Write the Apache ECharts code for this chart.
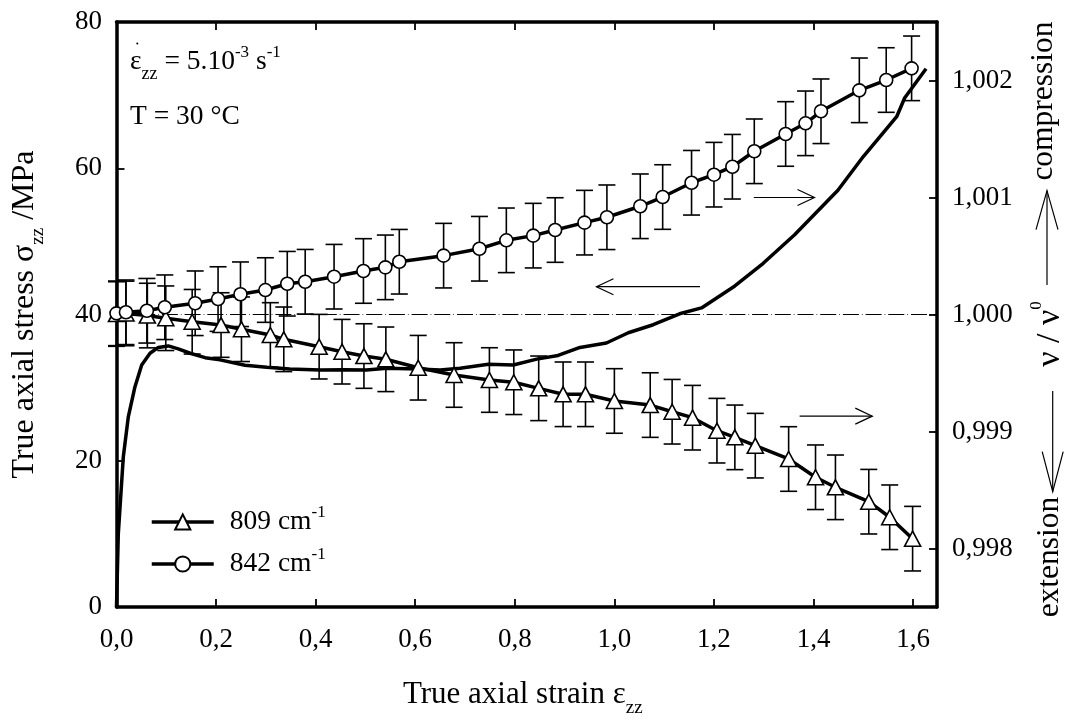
<!DOCTYPE html>
<html>
<head>
<meta charset="utf-8">
<style>html,body{margin:0;background:#fff}#chart{width:1069px;height:719px}</style>
<script src="https://cdn.jsdelivr.net/npm/echarts@6/dist/echarts.min.js"></script>
</head>
<body>
<div id="chart"></div>
<script>
const INK = "#000"
const SERIF = "'Liberation Serif', serif"

// values
const strain809 = [0,0.019,0.062,0.099,0.152,0.21,0.251,0.309,0.336,0.407,0.453,0.497,0.541,0.606,0.678,0.749,0.798,0.848,0.897,0.942,1,1.072,1.116,1.157,1.206,1.242,1.283,1.35,1.404,1.444,1.511,1.553,1.599]
const ratio809 = [1.000004,1.000009,0.999991,0.999968,0.999938,0.99991,0.999874,0.999825,0.999788,0.999725,0.999682,0.999645,0.999617,0.999545,0.999483,0.99944,0.999421,0.999369,0.999318,0.999318,0.999261,0.999226,0.999169,0.999118,0.999007,0.99895,0.998879,0.998765,0.998609,0.998523,0.9984,0.998267,0.998084]
const strain842 = [0,0.019,0.061,0.097,0.158,0.204,0.249,0.299,0.343,0.379,0.437,0.496,0.54,0.568,0.657,0.729,0.783,0.837,0.881,0.94,0.985,1.052,1.097,1.155,1.2,1.237,1.281,1.344,1.384,1.415,1.492,1.546,1.597]
const ratio842 = [1.00001,1.000019,1.000032,1.000062,1.000096,1.000132,1.000173,1.000209,1.000263,1.00028,1.000323,1.000372,1.000403,1.000451,1.000503,1.000562,1.000634,1.000674,1.000722,1.000785,1.000831,1.000925,1.001004,1.001126,1.001195,1.001263,1.001395,1.001543,1.001634,1.001737,1.001916,1.002004,1.002104]
const ERR = 0.000276 // half height of the error bars

const stressStrain = [0,0.0036,0.0137,0.0237,0.037,0.0506,0.0673,0.084,0.104,0.124,0.148,0.178,0.208,0.258,0.302,0.348,0.409,0.455,0.502,0.543,0.606,0.65,0.69,0.747,0.797,0.844,0.887,0.931,0.984,1.028,1.078,1.131,1.175,1.242,1.299,1.362,1.449,1.5,1.567,1.583,1.626]
const stress = [0,10,20.55,26,30.1,33.1,34.7,35.5,35.7,35.3,34.7,34.1,33.8,33.05,32.8,32.55,32.4,32.45,32.4,32.65,32.55,32.4,32.65,33.2,33.1,33.9,34.4,35.5,36.1,37.5,38.6,40.1,40.9,43.9,47,50.9,57,61.6,67.05,69.6,73.6]

const refStrain = [0, 1.655]
const refRatio = [1, 1]

// annotation arrows: [from strain, to strain, stress level]
const arrows = [[1.28, 1.402, 56], [1.172, 0.964, 43.8], [1.372, 1.518, 26.1]]

const xTicks = [0, 0.2, 0.4, 0.6, 0.8, 1.0, 1.2, 1.4, 1.6]
const rightTicks = [0.998, 0.999, 1.0, 1.001, 1.002]

// main size for labels in the plot, larger ones for the axis titles
const textRich = {
  n: {fontFamily: SERIF, fontSize: 27.5, color: INK, lineHeight: 42},
  sub: {fontFamily: SERIF, fontSize: 18, color: INK, verticalAlign: "bottom"},
  sup: {fontFamily: SERIF, fontSize: 17, color: INK, verticalAlign: "top", padding: [3, 0, 0, 0]},
  t: {fontFamily: SERIF, fontSize: 31, color: INK, lineHeight: 46},
  ty: {fontFamily: SERIF, fontSize: 32, color: INK, lineHeight: 46},
  tsub: {fontFamily: SERIF, fontSize: 19, color: INK, verticalAlign: "bottom"},
  tv: {fontFamily: SERIF, fontSize: 34, color: INK, lineHeight: 50},
}

// the second axes would jump onto x=0 / y=0 without onZero off
const axisLine = {show: true, onZero: false, lineStyle: {color: INK, width: 3.5}}
const axisTick = {show: true, inside: true, length: 8, lineStyle: {color: INK, width: 1.8}}
const tickFont = {fontFamily: SERIF, fontSize: 27, color: INK}

const errorBars = (xs, ys) => ({
  type: "custom",
  yAxisIndex: 1,
  z: 3,
  silent: true,
  clip: false,
  data: xs.map((x, i) => [x, ys[i] - ERR, ys[i] + ERR]),
  encode: {x: 0, y: [1, 2]},
  renderItem(params, api) {
    const lo = api.coord([api.value(0), api.value(1)])
    const hi = api.coord([api.value(0), api.value(2)])
    const style = {stroke: INK, lineWidth: 1.6, fill: null}
    const seg = (x1, y1, x2, y2) => ({type: "line", shape: {x1, y1, x2, y2}, style})
    return {
      type: "group",
      children: [
        seg(lo[0], lo[1], hi[0], hi[1]),
        seg(lo[0] - 8.5, lo[1], lo[0] + 8.5, lo[1]),
        seg(hi[0] - 8.5, hi[1], hi[0] + 8.5, hi[1]),
      ],
    }
  },
})

const markerLine = (name, xs, ys, symbol, symbolSize) => ({
  name,
  type: "line",
  yAxisIndex: 1,
  z: 5,
  clip: false,
  data: xs.map((x, i) => [x, ys[i]]),
  symbol,
  symbolSize,
  showAllSymbol: true,
  lineStyle: {color: INK, width: 3.5},
  itemStyle: {color: "#fff", borderColor: INK, borderWidth: 1.6},
})

const sideText = (text, x, y) => ({
  type: "text",
  x, y,
  rotation: Math.PI / 2,
  style: {text, fontFamily: SERIF, fontSize: 31.5, fill: INK, align: "center", verticalAlign: "middle"},
})

// open arrow pointing from y1 to y2 on the right margin
const sideArrow = (x, y1, y2, len, half) => {
  const back = y2 < y1 ? y2 + len : y2 - len
  const style = {stroke: INK, lineWidth: 1.2, fill: null}
  return [
    {type: "polyline", shape: {points: [[x, y1], [x, y2]]}, style},
    {type: "polyline", shape: {points: [[x - half, back], [x, y2], [x + half, back]]}, style},
  ]
}

const chart = echarts.init(document.getElementById("chart"), null, {renderer: "canvas"})

chart.setOption({
  animation: false,
  backgroundColor: "#fff",
  textStyle: {fontFamily: SERIF, color: INK},
  grid: {left: 116.5, right: 132, top: 22, bottom: 112, outerBoundsMode: "none"},
  legend: {
    left: 150,
    top: 504,
    padding: 0,
    orient: "vertical",
    itemWidth: 62,
    itemHeight: 19,
    itemGap: 10,
    lineStyle: {width: 3.5},
    data: ["809 cm-1", "842 cm-1"],
    formatter: name => `{n|${name.slice(0, 6)}}{sup|-1}`,
    textStyle: {rich: textRich, padding: [0, 0, 0, 11]},
  },
  xAxis: [
    {
      type: "value",
      position: "bottom",
      min: 0,
      max: 1.648,
      name: "{t|True axial strain ε}{tsub|zz}",
      nameLocation: "middle",
      nameGap: 64.5,
      nameTextStyle: {rich: textRich, padding: [0, 8, 0, 0]},
      axisLine,
      axisTick: {...axisTick, customValues: xTicks},
      axisLabel: {
        ...tickFont,
        customValues: xTicks,
        margin: 19,
        formatter: v => v.toFixed(1).replace(".", ","),
      },
      splitLine: {show: false},
    },
    {
      type: "value",
      position: "top",
      min: 0,
      max: 1.648,
      axisLine,
      axisTick: {...axisTick, customValues: xTicks},
      axisLabel: {show: false},
      splitLine: {show: false},
    },
  ],
  yAxis: [
    {
      type: "value",
      position: "left",
      min: 0,
      max: 80,
      interval: 20,
      name: "{ty|True axial stress σ}{tsub|zz}{ty| /MPa}",
      nameLocation: "middle",
      nameGap: 69,
      nameRotate: 90,
      nameTextStyle: {rich: textRich},
      axisLine,
      axisTick,
      axisLabel: {...tickFont, margin: 14.5, padding: [3, 0, 0, 0]},
      splitLine: {show: false},
    },
    {
      type: "value",
      position: "right",
      min: 0.9975,
      max: 1.0025,
      axisLine,
      axisTick: {...axisTick, customValues: rightTicks},
      axisLabel: {
        ...tickFont,
        customValues: rightTicks,
        margin: 15,
        padding: [3, 0, 0, 0],
        formatter: v => v.toFixed(3).replace(".", ","),
      },
      splitLine: {show: false},
    },
  ],
  series: [
    {
      type: "line",
      yAxisIndex: 1,
      z: 1,
      silent: true,
      clip: false,
      symbol: "none",
      data: refStrain.map((x, i) => [x, refRatio[i]]),
      lineStyle: {color: INK, width: 1, type: [16, 3, 0.7, 3]},
    },
    errorBars(strain809, ratio809),
    errorBars(strain842, ratio842),
    {
      type: "line",
      z: 4,
      clip: false,
      symbol: "none",
      data: stressStrain.map((x, i) => [x, stress[i]]),
      lineStyle: {color: INK, width: 3.5},
    },
    markerLine("809 cm-1", strain809, ratio809, "triangle", [16, 15]),
    markerLine("842 cm-1", strain842, ratio842, "circle", 13),
    {
      type: "custom",
      z: 3,
      silent: true,
      data: arrows,
      encode: {x: [0, 1], y: 2},
      renderItem(params, api) {
        const a = api.coord([api.value(0), api.value(2)])
        const b = api.coord([api.value(1), api.value(2)])
        const d = b[0] > a[0] ? -17 : 17
        const style = {stroke: INK, lineWidth: 1.2, fill: null}
        return {
          type: "group",
          children: [
            {type: "line", shape: {x1: a[0], y1: a[1], x2: b[0], y2: b[1]}, style},
            {type: "polyline", shape: {points: [[b[0] + d, b[1] - 8], [b[0], b[1]], [b[0] + d, b[1] + 8]]}, style},
          ],
        }
      },
    },
  ],
  graphic: [
    {
      type: "text",
      x: 130,
      y: 41,
      style: {text: "{n|ε}{sub|zz}{n| = 5.10}{sup|-3}{n| s}{sup|-1}", rich: textRich},
    },
    {type: "circle", shape: {cx: 137.3, cy: 43.5, r: 1}, style: {fill: INK}},
    {
      type: "text",
      x: 130,
      y: 96,
      style: {text: "{n|T = 30 °C}", rich: textRich},
    },
    sideText("compression", 1043.5, 101),
    sideText("extension", 1049.5, 557),
    {
      type: "text",
      x: 1050,
      y: 334,
      rotation: Math.PI / 2,
      style: {text: "{tv|ν / ν}{sup|0}", rich: textRich, align: "center", verticalAlign: "middle"},
    },
    ...sideArrow(1047, 285, 190.7, 39, 11),
    ...sideArrow(1052.7, 391, 491.7, 40, 10.5),
  ],
})
</script>
</body>
</html>
